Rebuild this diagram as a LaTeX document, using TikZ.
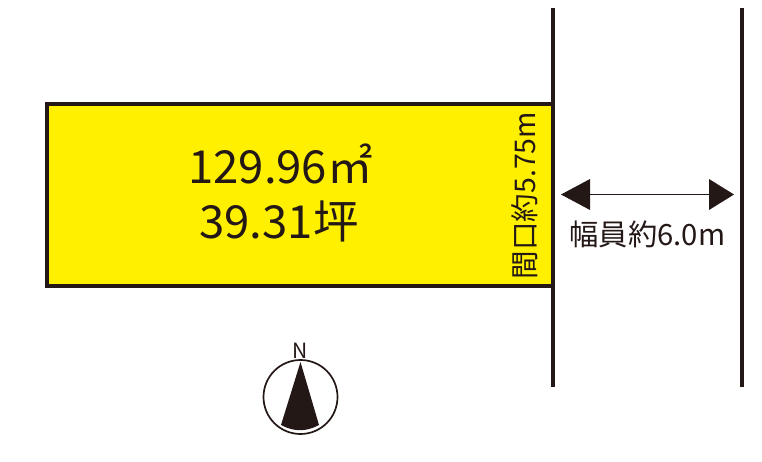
\documentclass[tikz,border=0pt]{standalone}
\usepackage{fontspec}
\setmainfont{Noto Sans CJK JP}
\definecolor{lotyellow}{HTML}{FFF000}
\definecolor{inkblack}{HTML}{231815}
\tikzset{
  lotbox/.style={draw=inkblack,line width=3.2pt,fill=lotyellow},
  roadline/.style={draw=inkblack,line width=3.2pt},
  dimline/.style={draw=inkblack,line width=1.4pt},
  headfill/.style={fill=inkblack,draw=none},
  areatext/.style={text=inkblack,font=\fontsize{45.5pt}{50pt}\selectfont,inner sep=0pt},
  dimtext/.style={text=inkblack,font=\fontsize{29.3pt}{32pt}\selectfont,inner sep=0pt},
}
\begin{document}
\begin{tikzpicture}[x=1pt,y=-1pt]
\useasboundingbox[fill=white] (0,0) rectangle (762,462);
\draw[lotbox] (47,104) rectangle (553,286);
\coordinate (r1t) at (553,8); \coordinate (r1b) at (553,387);
\coordinate (r2t) at (742,8); \coordinate (r2b) at (742,387);
\draw[roadline] (r1t) -- (r1b);
\draw[roadline] (r2t) -- (r2b);
\node[areatext] (area) at (280.5,164) {129.96㎡};
\node[areatext] (tsubo) at (279,221) {39.31坪};
\node[dimtext,font=\fontsize{28.5pt}{32pt}\selectfont,rotate=90] (front) at (525,195.5) {間口約5.75m};
\node[dimtext] (width) at (647.5,234) {幅員約6.0m};
\coordinate (al) at (590,194.5); \coordinate (ar) at (709,194.5);
\draw[dimline] (al) -- (ar);
\fill[headfill] (561,194.5) -- (590,179) -- (590,210) -- cycle;
\fill[headfill] (734,194.5) -- (709,179) -- (709,210) -- cycle;
\node[inner sep=0pt,text=inkblack,font=\fontsize{21pt}{22pt}\selectfont] (north) at (300,351) {N};
\draw[draw=inkblack,line width=1.7pt] (300.5,397) circle (37);
\fill[headfill] (300.5,362) -- (281,425) to[bend right=28] (319,425) -- cycle;
\end{tikzpicture}
\end{document}
